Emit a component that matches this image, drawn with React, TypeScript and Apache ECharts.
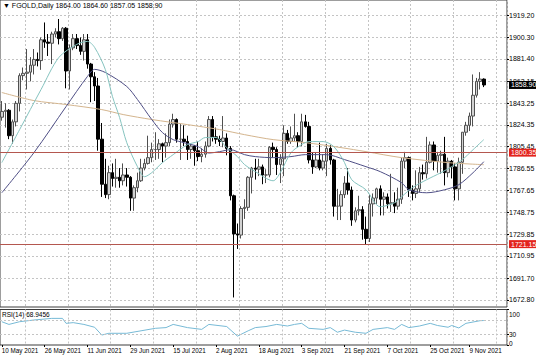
import React, { useEffect, useRef } from 'react';
import * as echarts from 'echarts';

// ---- Daily candles, 10 May 2021 .. 15 Nov 2021 ----
const opens = [
  1831, 1836, 1837, 1815, 1827, 1843, 1867, 1869, 1870, 1876,
  1881, 1880, 1898, 1896, 1895, 1903, 1905, 1899, 1908, 1871,
  1891, 1899, 1893, 1888, 1898, 1877, 1866, 1858, 1812, 1773,
  1764, 1783, 1778, 1779, 1776, 1781, 1779, 1761, 1770, 1776,
  1787, 1791, 1796, 1803, 1803, 1808, 1806, 1809, 1825, 1829,
  1812, 1812, 1810, 1803, 1806, 1802, 1797, 1799, 1806, 1829,
  1814, 1812, 1810, 1813, 1804, 1763, 1730, 1729, 1752, 1753,
  1779, 1787, 1786, 1788, 1781, 1781, 1805, 1803, 1790, 1795,
  1817, 1810, 1813, 1815, 1810, 1827, 1823, 1794, 1788, 1794,
  1787, 1793, 1804, 1794, 1754, 1754, 1764, 1774, 1768, 1742,
  1750, 1751, 1734, 1726, 1756, 1761, 1769, 1760, 1762, 1756,
  1757, 1754, 1760, 1793, 1796, 1768, 1765, 1769, 1783, 1782,
  1792, 1807, 1793, 1798, 1799, 1783, 1793, 1788, 1769, 1792,
  1818, 1824, 1832, 1850, 1862, 1864.0,
];
const highs = [
  1845, 1843, 1838, 1829, 1845, 1869, 1874, 1890, 1883, 1890,
  1887, 1900, 1913, 1903, 1905, 1908, 1916, 1909, 1909, 1894,
  1903, 1903, 1900, 1903, 1903, 1878, 1870, 1865, 1826, 1795,
  1789, 1791, 1795, 1787, 1791, 1787, 1780, 1772, 1783, 1795,
  1795, 1815, 1809, 1818, 1812, 1809, 1817, 1829, 1834, 1830,
  1825, 1824, 1815, 1808, 1807, 1810, 1804, 1810, 1832, 1832,
  1822, 1815, 1832, 1817, 1806, 1764, 1739, 1754, 1760, 1780,
  1788, 1795, 1795, 1790, 1786, 1806, 1809, 1805, 1799, 1824,
  1820, 1823, 1834, 1818, 1834, 1833, 1827, 1800, 1800, 1809,
  1799, 1808, 1807, 1795, 1769, 1767, 1780, 1787, 1771, 1753,
  1763, 1754, 1745, 1764, 1765, 1770, 1772, 1766, 1765, 1782,
  1766, 1770, 1796, 1801, 1797, 1772, 1785, 1788, 1790, 1814,
  1810, 1810, 1801, 1802, 1814, 1796, 1794, 1791, 1796, 1818,
  1827, 1835, 1868, 1865, 1870, 1864.6,
];
const lows = [
  1828, 1822, 1812, 1808, 1823, 1836, 1863, 1855, 1862, 1868,
  1875, 1872, 1891, 1884, 1877, 1900, 1894, 1897, 1856, 1855,
  1889, 1890, 1885, 1880, 1873, 1844, 1845, 1802, 1762, 1761,
  1760, 1771, 1770, 1770, 1772, 1771, 1750, 1750, 1766, 1775,
  1785, 1790, 1792, 1794, 1795, 1792, 1796, 1806, 1822, 1809,
  1794, 1806, 1794, 1795, 1789, 1793, 1792, 1796, 1805, 1810,
  1808, 1806, 1805, 1798, 1759, 1675, 1717, 1726, 1743, 1750,
  1765, 1777, 1780, 1773, 1774, 1779, 1796, 1781, 1774, 1780,
  1808, 1808, 1810, 1805, 1806, 1822, 1791, 1782, 1787, 1785,
  1785, 1780, 1790, 1745, 1742, 1742, 1761, 1764, 1737, 1740,
  1746, 1725, 1721.15, 1723, 1745, 1756, 1746, 1746, 1752, 1749,
  1748, 1751, 1756, 1787, 1762, 1759, 1761, 1766, 1777, 1778,
  1791, 1785, 1783, 1782, 1772, 1779, 1778, 1759, 1759, 1782,
  1815, 1819, 1823, 1848, 1855, 1857.05,
];
const closes = [
  1836, 1837, 1815, 1827, 1843, 1867, 1869, 1870, 1876, 1881,
  1880, 1898, 1896, 1895, 1903, 1905, 1899, 1908, 1871, 1891,
  1899, 1893, 1888, 1898, 1877, 1866, 1858, 1812, 1773, 1764,
  1783, 1778, 1779, 1776, 1781, 1779, 1761, 1770, 1776, 1787,
  1791, 1796, 1803, 1803, 1808, 1806, 1809, 1825, 1829, 1812,
  1812, 1810, 1803, 1806, 1802, 1797, 1799, 1806, 1829, 1814,
  1812, 1810, 1813, 1804, 1763, 1730, 1729, 1752, 1753, 1779,
  1787, 1786, 1788, 1781, 1781, 1805, 1803, 1790, 1795, 1817,
  1810, 1813, 1815, 1810, 1827, 1823, 1794, 1788, 1794, 1787,
  1793, 1804, 1794, 1754, 1754, 1764, 1774, 1768, 1742, 1750,
  1751, 1734, 1726, 1756, 1761, 1769, 1760, 1762, 1756, 1757,
  1754, 1760, 1793, 1796, 1768, 1765, 1769, 1783, 1782, 1792,
  1807, 1793, 1798, 1799, 1783, 1793, 1788, 1769, 1792, 1818,
  1824, 1832, 1850, 1862, 1864, 1858.9,
];

// ---- Moving averages, vertices [barIndex, price] ----
const fastMA = [
  [0, 1791.7], [5, 1820.3], [11, 1855.0], [16, 1882.8], [21, 1894.0], [24, 1896.6],
  [26, 1891.4], [29, 1872.3], [31, 1848.9], [33, 1830.7], [35, 1809.0], [38, 1788.2],
  [40, 1779.5], [42, 1783.0], [45, 1791.7], [48, 1798.6], [52, 1807.3], [55, 1809.9],
  [57, 1813.4], [60, 1813.4], [63, 1804.7], [66, 1796.9], [68, 1790.0], [71, 1783.9],
  [76, 1776.0], [78, 1783.0], [81, 1800.3], [84, 1807.3], [86, 1809.9], [90, 1809.9],
  [93, 1805.5], [96, 1791.7], [98, 1776.9], [102, 1768.2], [106, 1753.5], [110, 1757.0],
  [112, 1762.2], [115, 1770.0], [119, 1776.9], [123, 1783.0], [126, 1788.2], [129, 1794.3],
  [132, 1802.9], [135, 1811.6],
];
const slowMA = [
  [0, 1765.6], [9, 1800.3], [18, 1840.2], [24, 1866.3], [26, 1872.4], [29, 1869.7],
  [35, 1857.6], [38, 1846.3], [42, 1829.0], [45, 1817.7], [48, 1811.6], [51, 1809.0],
  [55, 1805.5], [58, 1800.0], [61, 1801.2], [64, 1802.9], [68, 1798.6], [71, 1796.9],
  [76, 1796.0], [81, 1796.9], [85, 1798.6], [91, 1798.6], [96, 1794.3], [102, 1788.2],
  [106, 1783.9], [112, 1774.3], [114, 1768.2], [119, 1765.6], [124, 1768.2], [128, 1772.6],
  [132, 1783.0], [135, 1792.5],
];
const longMA = [
  [0, 1852.4], [9, 1845.4], [18, 1842.0], [28, 1837.6], [34, 1833.3], [42, 1829.0],
  [52, 1824.6], [61, 1820.3], [68, 1815.9], [76, 1811.6], [85, 1809.0], [95, 1804.7],
  [102, 1801.2], [112, 1796.0], [125, 1791.7], [135, 1789.9],
];

// ---- RSI(14), vertices [barIndex, value] ----
const rsiPoints = [
  [0, 65.6], [2, 58], [5, 65.6], [9, 70.4], [14, 75], [17, 75], [18, 61], [20, 63],
  [23, 58], [26, 50], [28, 28], [30, 33], [35, 33], [39, 40], [43, 47], [46, 49],
  [48, 58], [52, 49], [56, 44], [58, 58], [63, 52], [66, 25], [69, 40], [71, 49],
  [74, 52], [77, 58], [80, 53.5], [82, 58], [84, 61], [86, 47], [90, 44], [92, 49],
  [94, 36], [96, 42], [99, 36], [102, 33], [104, 44], [108, 49], [110, 44], [112, 58],
  [114, 49], [117, 53.5], [120, 61], [122, 55], [125, 50], [126, 55], [128, 48],
  [130, 61], [134, 68.5], [135, 68.9456],
];
const rsiLast = 68.9456;

// ---- Axis ticks / labels / levels ----
const priceTicks = [
  1672.8, 1691.7, 1710.95, 1729.85, 1748.75, 1767.65, 1786.55,
  1805.45, 1824.35, 1843.25, 1862.15, 1881.4, 1900.3, 1919.2,
];
const rsiTicks = [0, 30, 70, 100];
const rsiLevels = [30, 70];
const dateLabels = [
  '10 May 2021', '26 May 2021', '11 Jun 2021', '29 Jun 2021', '15 Jul 2021', '2 Aug 2021',
  '18 Aug 2021', '3 Sep 2021', '21 Sep 2021', '7 Oct 2021', '25 Oct 2021', '9 Nov 2021',
];
const levelLines = [1800.35, 1721.15];
const priceMin = 1666.74;
const priceMax = 1932.44;

const MONTHS = ['Jan', 'Feb', 'Mar', 'Apr', 'May', 'Jun', 'Jul', 'Aug', 'Sep', 'Oct', 'Nov', 'Dec'];
function weekdayLabels(startUtc: number, count: number): string[] {
  const out: string[] = [];
  let t = startUtc;
  while (out.length < count) {
    const d = new Date(t);
    const wd = d.getUTCDay();
    if (wd !== 0 && wd !== 6) out.push(`${d.getUTCDate()} ${MONTHS[d.getUTCMonth()]} ${d.getUTCFullYear()}`);
    t += 86400000;
  }
  return out;
}
const SLOTS = 142;
const categories = weekdayLabels(Date.UTC(2021, 4, 10), SLOTS);

const FONT = "'Liberation Sans Narrow', 'Liberation Sans', Arial, sans-serif";

export default function App() {
  const ref = useRef<HTMLDivElement>(null);
  useEffect(() => {
    if (!ref.current) return;
    const chart = echarts.init(ref.current, undefined, { renderer: 'svg' });
    const last = closes.length - 1;
    const gridLine = { color: '#c4c4c4', width: 1, type: [2, 2] as number[] };
    const vGrid = (i: number) => i % 12 === 7;
    const showDate = (_i: number, v: string) => dateLabels.includes(v);
    const levelLabel = (txt: string, bg: string) => ({
      show: true,
      position: 'end',
      formatter: txt,
      color: '#fff',
      backgroundColor: bg,
      padding: [1, 2, 0, 2],
      fontSize: 7,
      fontFamily: FONT,
      distance: 2,
    });
    const title = `\u25BC FGOLD,Daily ${opens[last].toFixed(2)} ${highs[last].toFixed(2)} ${lows[last].toFixed(2)} ${closes[last].toFixed(2)}`;

    chart.setOption({
      animation: false,
      backgroundColor: '#ffffff',
      textStyle: { fontFamily: FONT },
      grid: [
        { left: 0, top: 0, width: 507, height: 307, show: true, borderColor: '#3c3c3c', borderWidth: 1, outerBoundsMode: 'none' },
        { left: 0, top: 309.5, width: 507, height: 35.5, show: true, borderColor: '#3c3c3c', borderWidth: 1, outerBoundsMode: 'none' },
      ],
      xAxis: [
        {
          type: 'category', gridIndex: 0, data: categories, boundaryGap: true,
          axisLine: { show: false }, axisTick: { show: false }, axisLabel: { show: false },
          splitLine: { show: true, interval: vGrid, lineStyle: gridLine },
        },
        {
          type: 'category', gridIndex: 1, data: categories, boundaryGap: true,
          axisLine: { show: false },
          axisTick: { show: true, alignWithLabel: true, interval: showDate, length: 2, lineStyle: { color: '#000' } },
          axisLabel: { show: true, interval: showDate, align: 'left', fontSize: 6.3, color: '#000', margin: 2, fontFamily: FONT },
          splitLine: { show: true, interval: vGrid, lineStyle: gridLine },
        },
      ],
      yAxis: [
        {
          type: 'value', gridIndex: 0, position: 'right', min: priceMin, max: priceMax,
          axisLine: { show: false },
          axisTick: { show: true, customValues: priceTicks, length: 2, lineStyle: { color: '#000' } },
          axisLabel: { customValues: priceTicks, formatter: (v: number) => v.toFixed(2), fontSize: 7, color: '#000', margin: 2, fontFamily: FONT },
          splitLine: { show: true, lineStyle: gridLine },
        },
        {
          type: 'value', gridIndex: 1, position: 'right', min: 0, max: 100,
          axisLine: { show: false },
          axisTick: { show: true, customValues: rsiTicks, length: 2, lineStyle: { color: '#000' } },
          axisLabel: {
            customValues: rsiTicks, fontSize: 6.5, color: '#000', margin: 2, fontFamily: FONT,
            showMinLabel: true, showMaxLabel: true, hideOverlap: false,
            formatter: (v: number) => (v === 100 ? '{top|100}' : v === 0 ? '{bot|0}' : String(v)),
            rich: { top: { padding: [9, 0, 0, 0], fontSize: 6.5 }, bot: { padding: [0, 0, 4, 0], fontSize: 6.5 } },
          },
          splitLine: { show: false },
        },
      ],
      graphic: [
        { type: 'text', left: 3, top: 2, style: { text: title, fontSize: 7, fill: '#000', fontFamily: FONT } },
        { type: 'text', left: 2, top: 310.5, style: { text: `RSI(14) ${rsiLast.toFixed(4)}`, fontSize: 6.5, fill: '#000', fontFamily: FONT } },
      ],
      series: [
        {
          type: 'candlestick', xAxisIndex: 0, yAxisIndex: 0, barWidth: 3,
          data: opens.map((o, i) => [o, closes[i], lows[i], highs[i]]),
          itemStyle: { color: '#d2d2d2', color0: '#000000', borderColor: '#505050', borderColor0: '#000000', borderWidth: 1 },
          markLine: {
            silent: true, symbol: ['none', 'none'], animation: false,
            data: [
              { yAxis: levelLines[0], lineStyle: { color: '#b4574f', width: 1, type: 'solid' }, label: levelLabel(levelLines[0].toFixed(2), '#e3231c') },
              { yAxis: levelLines[1], lineStyle: { color: '#b4574f', width: 1, type: 'solid' }, label: levelLabel(levelLines[1].toFixed(2), '#e3231c') },
              { yAxis: closes[last], lineStyle: { color: 'rgba(0,0,0,0)', width: 1 }, label: levelLabel(closes[last].toFixed(2), '#000000') },
            ],
          },
          z: 2,
        },
        {
          type: 'line', xAxisIndex: 0, yAxisIndex: 0, data: longMA, smooth: 0.3, symbol: 'none',
          lineStyle: { color: '#d4b58e', width: 1 }, z: 3,
        },
        {
          type: 'line', xAxisIndex: 0, yAxisIndex: 0, data: slowMA, smooth: 0.3, symbol: 'none',
          lineStyle: { color: '#4f4f86', width: 1 }, z: 3,
        },
        {
          type: 'line', xAxisIndex: 0, yAxisIndex: 0, data: fastMA, smooth: 0.3, symbol: 'none',
          lineStyle: { color: '#86c4c0', width: 1 }, z: 3,
        },
        {
          type: 'line', xAxisIndex: 1, yAxisIndex: 1, data: rsiPoints, smooth: false, symbol: 'none',
          lineStyle: { color: '#77bad6', width: 1 },
          markLine: {
            silent: true, symbol: ['none', 'none'], animation: false, label: { show: false },
            lineStyle: { color: '#c4c4c4', width: 1, type: [2, 2] },
            data: rsiLevels.map((v) => ({ yAxis: v })),
          },
        },
      ],
    });
    return () => chart.dispose();
  }, []);
  return <div ref={ref} style={{ position: 'absolute', left: 0, top: 0, width: 536, height: 357 }} />;
}
